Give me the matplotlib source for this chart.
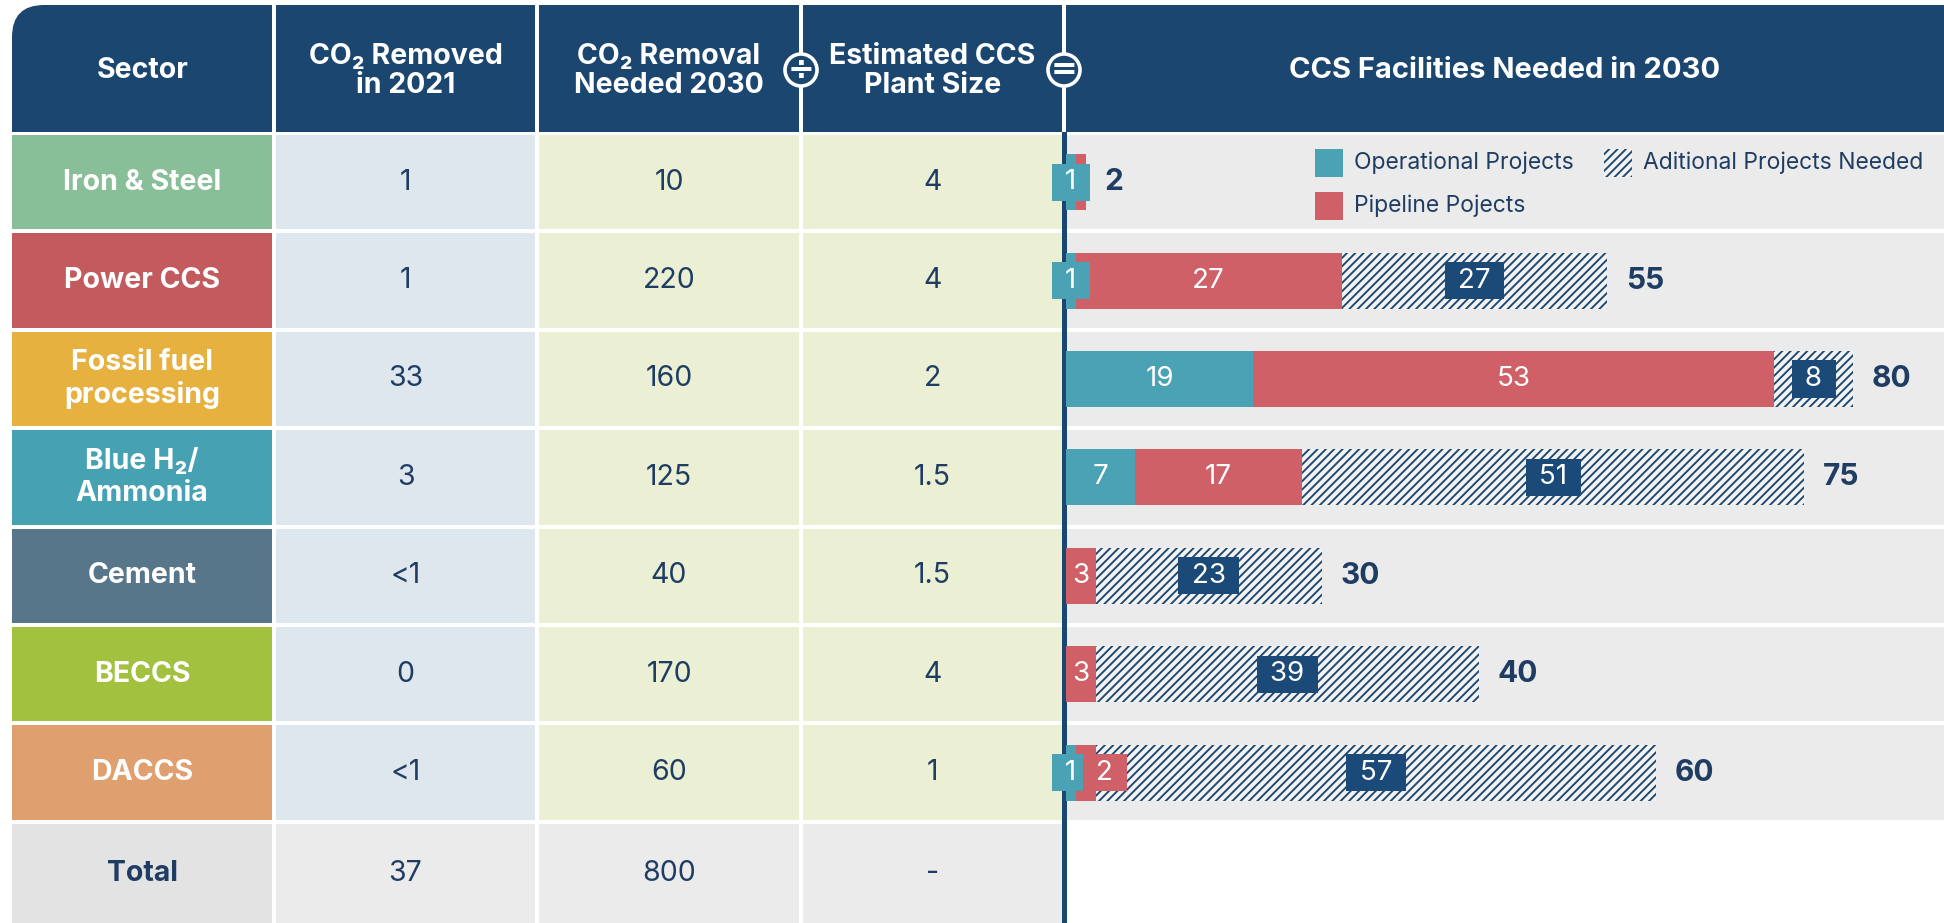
import matplotlib
matplotlib.use("Agg")
import matplotlib.pyplot as plt
import numpy as np
from matplotlib.patches import Rectangle, FancyBboxPatch, Circle

plt.rcParams.update({
    "font.family": ["Inter", "DejaVu Sans"],
    "hatch.linewidth": 1.35,
})

# ---- data ----
sectors = ["Iron & Steel", "Power CCS", "Fossil fuel\nprocessing", "Blue H\u2082/\nAmmonia",
           "Cement", "BECCS", "DACCS"]
removed_2021 = ["1", "1", "33", "3", "<1", "0", "<1"]
removal_2030 = ["10", "220", "160", "125", "40", "170", "60"]
plant_size = ["4", "4", "2", "1.5", "1.5", "4", "1"]
total_row = ["Total", "37", "800", "-"]

operational = np.array([1, 1, 19, 7, 0, 0, 1])
pipeline = np.array([1, 27, 53, 17, 3, 3, 2])
additional = np.array([0, 27, 8, 51, 23, 39, 57])
facilities_total = [2, 55, 80, 75, 30, 40, 60]

headers = ["Sector", "CO\u2082 Removed\nin 2021", "CO\u2082 Removal\nNeeded 2030",
           "Estimated CCS\nPlant Size"]
chart_title = "CCS Facilities Needed in 2030"
legend_labels = ["Operational Projects", "Aditional Projects Needed", "Pipeline Pojects"]

# ---- style ----
W, H = 1944, 923
NAVY = "#1b4670"
INK = "#1f3d63"
TEAL = "#4aa2b4"
RED = "#d06067"
BOXNAVY = "#1b4a78"
ROWBG = "#ebebeb"
HATCH_BG = "#f2f2f2"
sector_colors = ["#88bf98", "#c25a5e", "#e7b13f", "#46a1b3", "#57768a", "#a1c13f", "#e09f6e"]
COL2_BG = "#dfe7ee"
COL34_BG = "#ebefd3"
TOTAL_BG = "#e3e3e3"

col_edges = [12, 274, 537, 801, 1064]
GAP = 4
HEAD_TOP, HEAD_BOT = 5, 132
ROW0 = 135
PITCH = 98.4
BAR_X0 = 1066
PX_PER_UNIT = 9.84

fig = plt.figure(figsize=(W / 100, H / 100), dpi=100)
bg = fig.add_axes([0, 0, 1, 1])
bg.set_xlim(0, W)
bg.set_ylim(H, 0)
bg.axis("off")


def rect(x0, y0, x1, y1, fc, **kw):
    bg.add_patch(Rectangle((x0, y0), x1 - x0, y1 - y0, fc=fc, ec="none", **kw))


# header band
bg.add_patch(FancyBboxPatch((12, HEAD_TOP), 2100, HEAD_BOT - HEAD_TOP,
                            boxstyle="round,pad=0,rounding_size=32", fc=NAVY, ec="none"))
rect(12, 60, 80, HEAD_BOT, NAVY)
for e in col_edges[1:]:
    rect(e - GAP / 2, 0, e + GAP / 2, HEAD_BOT, "white", zorder=2)

for j, h in enumerate(headers):
    cx = (col_edges[j] + col_edges[j + 1]) / 2
    bg.text(cx, 71, h, color="white", fontsize=20.5, fontweight="bold", ha="center",
            va="center", linespacing=1.1, zorder=3)
bg.text((BAR_X0 + W) / 2, 71, chart_title, color="white", fontsize=21,
        fontweight="bold", ha="center", va="center", zorder=3)

for x, sym in [(col_edges[3], "\u00f7"), (col_edges[4], "=")]:
    bg.add_patch(Circle((x, 70), 16, fc=NAVY, ec="white", lw=2.6, zorder=4))
    bg.text(x, 71, sym, color="white", fontsize=23, fontweight="bold", ha="center",
            va="center", zorder=5, family="DejaVu Sans")

# table body
rows = [(s, c, a, b, p) for s, c, a, b, p in
        zip(sectors, sector_colors, removed_2021, removal_2030, plant_size)]
rows.append((total_row[0], TOTAL_BG, total_row[1], total_row[2], total_row[3]))
for i, (s, c, a, b, p) in enumerate(rows):
    y0 = ROW0 + i * PITCH
    y1 = y0 + PITCH - GAP if i < len(rows) - 1 else H
    cy = (y0 + y1) / 2
    is_total = i == len(rows) - 1
    fills = [c, COL2_BG, COL34_BG, COL34_BG] if not is_total else [TOTAL_BG, ROWBG, ROWBG, ROWBG]
    vals = [s, a, b, p]
    for j in range(4):
        x0 = col_edges[j] + (GAP / 2 if j > 0 else 0)
        x1 = col_edges[j + 1] - GAP / 2
        rect(x0, y0, x1, y1, fills[j])
        if j == 0:
            bg.text((x0 + x1) / 2, cy, vals[j], color=INK if is_total else "white",
                    fontsize=20.5, fontweight="bold", ha="center", va="center",
                    linespacing=1.2)
        else:
            bg.text((x0 + x1) / 2, cy, vals[j], color=INK, fontsize=20.5,
                    ha="center", va="center")
    if not is_total:
        rect(BAR_X0, y0, W, y1, ROWBG)

# navy divider
rect(col_edges[4] - 2, HEAD_BOT, col_edges[4] + 2.5, H, NAVY, zorder=3)

# ---- stacked bars ----
top = ROW0 - 2
ax = fig.add_axes([BAR_X0 / W, 1 - (top + 7 * PITCH) / H, (W - BAR_X0) / W, 7 * PITCH / H])
ax.set_xlim(0, (W - BAR_X0) / PX_PER_UNIT)
ax.set_ylim(6.5, -0.5)
ax.axis("off")
ax.patch.set_alpha(0)

y = np.arange(len(sectors))
bh = 0.57
ax.barh(y, operational, height=bh, color=TEAL, lw=0)
ax.barh(y, pipeline, left=operational, height=bh, color=RED, lw=0)
ax.barh(y, additional, left=operational + pipeline, height=bh, color=HATCH_BG,
        edgecolor=NAVY, lw=0, hatch="////")


def label(x, yy, v, fc, boxed=True):
    kw = {}
    if boxed:
        kw["bbox"] = dict(boxstyle="square,pad=0.2", fc=fc, ec="none")
    ax.text(x, yy, f" {v} " if boxed else str(v), color="white", fontsize=20,
            ha="center", va="center", zorder=5, **kw)


for i in range(len(sectors)):
    op, pi, ad = operational[i], pipeline[i], additional[i]
    right = -10
    if op > 0:
        label(op / 2, i, op, TEAL, boxed=op < 3)
        right = op / 2 + 1.8
    if pi >= 2:
        half = (len(str(pi)) * 1.2 + 1.5) / 2 + 0.3
        cx = max(op + pi / 2, right + half)
        label(cx, i, pi, RED, boxed=pi < 3)
    if ad > 0:
        label(op + pi + ad / 2, i, ad, BOXNAVY)
    ax.text(op + pi + ad + 1.9, i, str(facilities_total[i]), color=INK, fontsize=21.5,
            fontweight="bold", ha="left", va="center")

# ---- legend ----
sq = 28
bg.add_patch(Rectangle((1315, 163 - sq / 2), sq, sq, fc=TEAL, ec="none"))
bg.text(1354, 163, legend_labels[0], color=INK, fontsize=16.5, ha="left", va="center")
bg.add_patch(Rectangle((1604, 163 - sq / 2), sq, sq, fc=HATCH_BG, ec=NAVY, lw=0, hatch="////"))
bg.text(1643, 163, legend_labels[1], color=INK, fontsize=16.5, ha="left", va="center")
bg.add_patch(Rectangle((1315, 206 - sq / 2), sq, sq, fc=RED, ec="none"))
bg.text(1354, 206, legend_labels[2], color=INK, fontsize=16.5, ha="left", va="center")

fig.savefig("out.png", dpi=100, facecolor="white")
